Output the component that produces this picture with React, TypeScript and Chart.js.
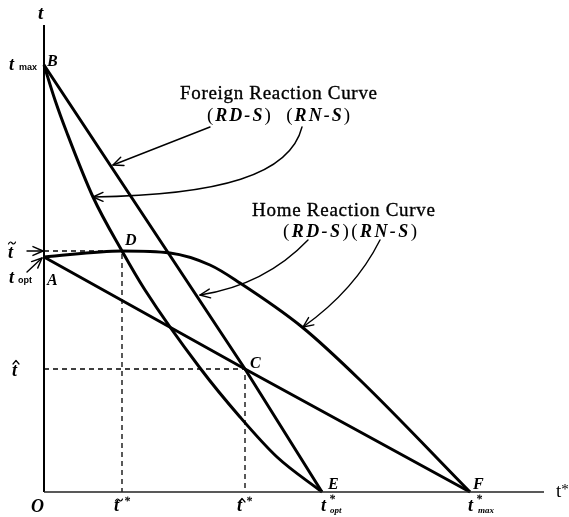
import React, { useEffect, useRef } from "react";
import { Chart, registerables } from "chart.js";

Chart.register(...registerables);

// ---- values (data units: t* along the horizontal, t along the vertical) ----
const tMax = 427;
const tTilde = 241;
const tOpt = 235;
const tHat = 123;
const tTildeStar = 78;
const tHatStar = 201;
const tStarOpt = 278;
const tStarMax = 426;
const axisMaxX = 500;
const axisMaxY = 467;

// Foreign reaction curves
const foreignLineX = [0, tHatStar, tStarOpt];
const foreignLineY = [tMax, tHat, 0];
const foreignCurveX = [0, 11, 23, 49, 78, 101, 156, 196, 233, 278];
const foreignCurveY = [427, 392, 359, 295, 241, 202, 124, 75, 35, 0];

// Home reaction curves
const homeLineX = [0, tHatStar, tStarMax];
const homeLineY = [tOpt, tHat, 0];
const homeCurveX = [0, 78, 126, 166, 196, 258, 316, 426];
const homeCurveY = [235, 241, 239, 227, 209, 165, 112, 0];

// annotation arrows (data units), cubic/quadratic control points
const arrowForeignRD = [[166, 365], [69, 327]];
const arrowForeignRN = [[258, 365], [246, 317], [176, 297], [49, 295]];
const arrowHomeRD = [[264, 252], [221, 207], [156, 197]];
const arrowHomeRN = [[336, 252], [311, 202], [259, 165]];
const arrowTTilde = [[-17, 241], [-1, 241]];
const arrowTOpt = [[-17, 220], [-2, 234]];

const SERIF = '"Liberation Serif", "DejaVu Serif", serif';
const SANS = '"Liberation Sans", "DejaVu Sans", sans-serif';
const BI = (s: number) => `italic bold ${s}px ${SERIF}`;

function pts(xs: number[], ys: number[]) {
  return xs.map((x, i) => ({ x, y: ys[i] }));
}

type Seg = { t: string; f: string; dy?: number };

function drawSegs(
  ctx: CanvasRenderingContext2D,
  segs: Seg[],
  x: number,
  y: number,
  width?: number,
  stroke = 0
) {
  const chars: { ch: string; f: string; dy: number; w: number }[] = [];
  for (const s of segs) {
    ctx.font = s.f;
    for (const ch of Array.from(s.t)) {
      chars.push({ ch, f: s.f, dy: s.dy || 0, w: ctx.measureText(ch).width });
    }
  }
  const natural = chars.reduce((a, c) => a + c.w, 0);
  const ls = width && chars.length > 1 ? (width - natural) / (chars.length - 1) : 0;
  let cx = x;
  for (const c of chars) {
    ctx.font = c.f;
    ctx.fillText(c.ch, cx, y + c.dy);
    if (stroke > 0) {
      ctx.save();
      ctx.lineWidth = stroke;
      ctx.strokeText(c.ch, cx, y + c.dy);
      ctx.restore();
    }
    cx += c.w + ls;
  }
}

function tilde(ctx: CanvasRenderingContext2D, x: number, y: number) {
  ctx.save();
  ctx.lineWidth = 1.2;
  ctx.beginPath();
  ctx.moveTo(x - 3.5, y + 1);
  ctx.bezierCurveTo(x - 2.3, y - 1.8, x - 1, y - 1.2, x, y);
  ctx.bezierCurveTo(x + 1, y + 1.2, x + 2.3, y + 1.8, x + 3.5, y - 1);
  ctx.stroke();
  ctx.restore();
}

function hat(ctx: CanvasRenderingContext2D, x: number, y: number) {
  ctx.save();
  ctx.lineWidth = 1.2;
  ctx.beginPath();
  ctx.moveTo(x - 3, y + 2);
  ctx.lineTo(x, y - 1.5);
  ctx.lineTo(x + 3, y + 2);
  ctx.stroke();
  ctx.restore();
}

function arrowHead(ctx: CanvasRenderingContext2D, tx: number, ty: number, fx: number, fy: number) {
  const len = 11;
  const ang = 0.42;
  const a = Math.atan2(ty - fy, tx - fx);
  ctx.beginPath();
  ctx.moveTo(tx - len * Math.cos(a - ang), ty - len * Math.sin(a - ang));
  ctx.lineTo(tx, ty);
  ctx.lineTo(tx - len * Math.cos(a + ang), ty - len * Math.sin(a + ang));
  ctx.stroke();
}

const annotations = {
  id: "annotations",
  beforeDraw(chart: any) {
    const ctx = chart.ctx as CanvasRenderingContext2D;
    ctx.save();
    ctx.fillStyle = "#fff";
    ctx.fillRect(0, 0, chart.width, chart.height);
    ctx.restore();
  },
  afterDraw(chart: any) {
    const ctx = chart.ctx as CanvasRenderingContext2D;
    const X = (v: number) => chart.scales.x.getPixelForValue(v);
    const Y = (v: number) => chart.scales.y.getPixelForValue(v);
    const P = (p: number[]) => [X(p[0]), Y(p[1])];
    ctx.save();
    ctx.fillStyle = "#000";
    ctx.strokeStyle = "#000";
    ctx.textAlign = "left";
    ctx.textBaseline = "alphabetic";

    // ---- arrows ----
    ctx.lineWidth = 1.4;
    ctx.lineCap = "round";
    ctx.lineJoin = "round";
    const straight = (a: number[][]) => {
      const [s, e] = [P(a[0]), P(a[1])];
      ctx.beginPath();
      ctx.moveTo(s[0], s[1]);
      ctx.lineTo(e[0], e[1]);
      ctx.stroke();
      arrowHead(ctx, e[0], e[1], s[0], s[1]);
    };
    const quad = (a: number[][]) => {
      const [s, c, e] = a.map(P);
      ctx.beginPath();
      ctx.moveTo(s[0], s[1]);
      ctx.quadraticCurveTo(c[0], c[1], e[0], e[1]);
      ctx.stroke();
      arrowHead(ctx, e[0], e[1], c[0], c[1]);
    };
    const cubic = (a: number[][]) => {
      const [s, c1, c2, e] = a.map(P);
      ctx.beginPath();
      ctx.moveTo(s[0], s[1]);
      ctx.bezierCurveTo(c1[0], c1[1], c2[0], c2[1], e[0], e[1]);
      ctx.stroke();
      arrowHead(ctx, e[0], e[1], c2[0], c2[1]);
    };
    straight(arrowForeignRD);
    cubic(arrowForeignRN);
    quad(arrowHomeRD);
    quad(arrowHomeRN);
    straight(arrowTTilde);
    straight(arrowTOpt);

    // ---- annotation texts ----
    const reg = `19px ${SERIF}`;
    const it = BI(18);
    drawSegs(ctx, [{ t: "Foreign Reaction Curve", f: reg }], 180, 99, 197, 0.35);
    drawSegs(
      ctx,
      [
        { t: "(", f: reg },
        { t: "RD-S", f: it },
        { t: ")  (", f: reg },
        { t: "RN-S", f: it },
        { t: ")", f: reg },
      ],
      207,
      121,
      143
    );
    drawSegs(ctx, [{ t: "Home Reaction Curve", f: reg }], 252, 216, 183, 0.35);
    drawSegs(
      ctx,
      [
        { t: "(", f: reg },
        { t: "RD-S", f: it },
        { t: ")(", f: reg },
        { t: "RN-S", f: it },
        { t: ")", f: reg },
      ],
      283,
      237,
      134
    );

    // ---- axis titles ----
    ctx.font = BI(19);
    ctx.fillText("t", X(0) - 6, Y(axisMaxY) - 6);
    drawSegs(ctx, [{ t: "t", f: `19px ${SERIF}` }, { t: "*", f: `15px ${SERIF}`, dy: -3 }], X(axisMaxX) + 12, Y(0) + 5);

    // ---- vertical-axis labels ----
    const small = `bold 9px ${SANS}`;
    ctx.font = BI(18);
    ctx.fillText("t", 9, Y(tMax) + 5);
    ctx.font = small;
    ctx.fillText("max", 19, Y(tMax) + 5);
    ctx.font = BI(18);
    ctx.fillText("t", 8, Y(tTilde) + 7);
    tilde(ctx, 12, Y(tTilde) - 8);
    ctx.font = BI(18);
    ctx.fillText("t", 9, Y(tOpt) + 26);
    ctx.font = small;
    ctx.fillText("opt", 18, Y(tOpt) + 26);
    ctx.font = BI(18);
    ctx.fillText("t", 12, Y(tHat) + 7);
    hat(ctx, 16, Y(tHat) - 7);

    // ---- horizontal-axis labels ----
    const base = Y(0) + 19;
    const star = BI(12);
    const sub = `italic bold 9px ${SERIF}`;
    ctx.font = BI(18);
    ctx.fillText("O", 31, base + 1);
    ctx.font = BI(18);
    ctx.fillText("t", X(tTildeStar) - 8, base);
    tilde(ctx, X(tTildeStar) - 3, base - 11);
    ctx.font = star;
    ctx.fillText("*", X(tTildeStar) + 2, base - 6);
    ctx.font = BI(18);
    ctx.fillText("t", X(tHatStar) - 8, base);
    hat(ctx, X(tHatStar) - 3, base - 11);
    ctx.font = star;
    ctx.fillText("*", X(tHatStar) + 1, base - 6);
    ctx.font = BI(18);
    ctx.fillText("t", X(tStarOpt) - 1, base);
    ctx.font = star;
    ctx.fillText("*", X(tStarOpt) + 7, base - 8);
    ctx.font = sub;
    ctx.fillText("opt", X(tStarOpt) + 8, base + 2);
    ctx.font = BI(18);
    ctx.fillText("t", X(tStarMax) - 2, base);
    ctx.font = star;
    ctx.fillText("*", X(tStarMax) + 6, base - 8);
    ctx.font = sub;
    ctx.fillText("max", X(tStarMax) + 8, base + 2);

    // ---- point labels ----
    ctx.font = BI(16);
    ctx.fillText("B", X(0) + 3, Y(tMax) + 1);
    ctx.fillText("D", X(tTildeStar) + 3, Y(tTilde) - 6);
    ctx.fillText("A", X(0) + 3, Y(tOpt) + 28);
    ctx.fillText("C", X(tHatStar) + 5, Y(tHat) - 1);
    ctx.fillText("E", X(tStarOpt) + 6, Y(0) - 3);
    ctx.fillText("F", X(tStarMax) + 3, Y(0) - 3);
    ctx.restore();
  },
};

export default function App() {
  const ref = useRef<HTMLCanvasElement | null>(null);
  useEffect(() => {
    if (!ref.current) return;
    const base = {
      showLine: true,
      borderColor: "#000",
      pointRadius: 0,
      pointHoverRadius: 0,
      fill: false,
      clip: false as any,
    };
    const chart = new Chart(ref.current, {
      type: "scatter",
      data: {
        datasets: [
          { ...base, label: "x-axis", data: [{ x: 0, y: 0 }, { x: axisMaxX, y: 0 }], borderWidth: 1.5, borderColor: "#222" },
          { ...base, label: "y-axis", data: [{ x: 0, y: 0 }, { x: 0, y: axisMaxY }], borderWidth: 2 },
          {
            ...base,
            label: "t~",
            data: [{ x: 0, y: tTilde }, { x: tTildeStar, y: tTilde }, { x: tTildeStar, y: 0 }],
            borderWidth: 1.3,
            borderDash: [5, 4],
          },
          {
            ...base,
            label: "t^",
            data: [{ x: 0, y: tHat }, { x: tHatStar, y: tHat }, { x: tHatStar, y: 0 }],
            borderWidth: 1.3,
            borderDash: [5, 4],
          },
          { ...base, label: "Foreign RD-S", data: pts(foreignLineX, foreignLineY), borderWidth: 3 },
          {
            ...base,
            label: "Foreign RN-S",
            data: pts(foreignCurveX, foreignCurveY),
            borderWidth: 3,
            cubicInterpolationMode: "monotone",
          },
          { ...base, label: "Home RD-S", data: pts(homeLineX, homeLineY), borderWidth: 3 },
          {
            ...base,
            label: "Home RN-S",
            data: pts(homeCurveX, homeCurveY),
            borderWidth: 3,
            cubicInterpolationMode: "monotone",
          },
        ] as any,
      },
      options: {
        responsive: false,
        maintainAspectRatio: false,
        animation: false,
        events: [],
        layout: { padding: { left: 44, top: 25, right: 25, bottom: 25 } },
        scales: {
          x: { type: "linear", min: 0, max: axisMaxX, display: false },
          y: { type: "linear", min: 0, max: axisMaxY, display: false },
        },
        plugins: { legend: { display: false }, tooltip: { enabled: false } },
      },
      plugins: [annotations],
    });
    return () => chart.destroy();
  }, []);
  return (
    <div style={{ position: "fixed", left: 0, top: 0, width: 569, height: 517, background: "#fff" }}>
      <canvas ref={ref} width={569} height={517} style={{ display: "block" }} />
    </div>
  );
}
